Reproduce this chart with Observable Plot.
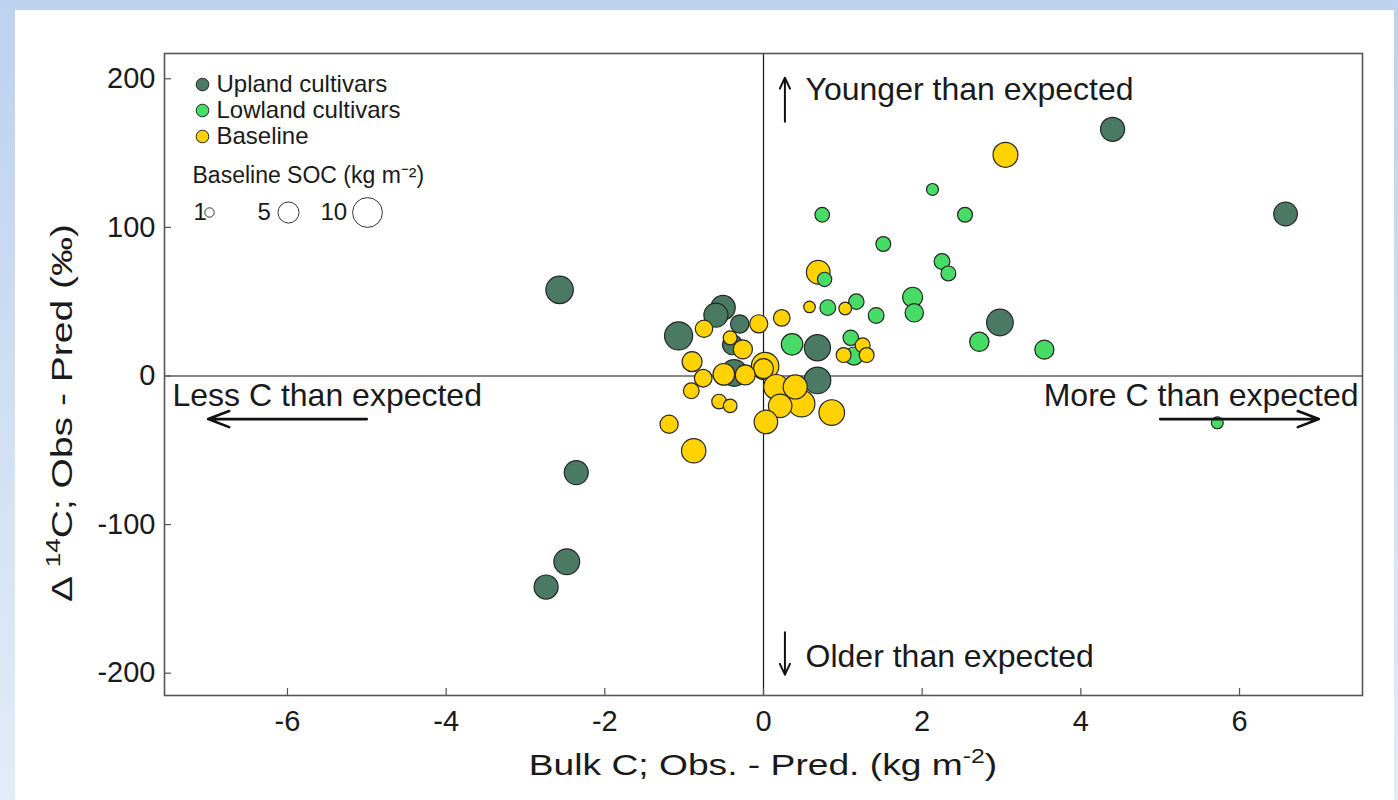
<!DOCTYPE html>
<html>
<head>
<meta charset="utf-8">
<script src="https://cdn.jsdelivr.net/npm/d3@7"></script>
<script src="https://cdn.jsdelivr.net/npm/@observablehq/plot@0.6"></script>
<style>
  html, body { margin: 0; padding: 0; width: 1398px; height: 800px; overflow: hidden; }
  body { background: linear-gradient(to bottom, #bcd2ee, #e3ecf8); position: relative; }
  #panel { position: absolute; left: 15px; top: 10px; width: 1379px; height: 790px; background: #fff; }
  #chart { position: absolute; left: 0; top: 0; }
</style>
</head>
<body>
<div id="panel"></div>
<div id="chart"></div>
<script>
// Groups and their fill colours
const groups = ["Upland cultivars", "Lowland cultivars", "Baseline"];
const groupColors = ["#4a7a64", "#47dc65", "#ffd200"];

// Upland cultivars: bulk C residual (kg m-2), Δ14C residual (‰), baseline SOC (kg m-2)
const uplandBulkC = [4.40, 6.58, -2.57, 2.98, 0.68, 0.68, -1.07, -0.51, -0.60, -0.30, -0.39, -0.37, -2.36, -2.48, -2.74];
const uplandD14C  = [166, 109, 58, 36, 19, -3, 27, 46, 41, 35, 21, 2, -65, -125, -142];
const uplandSOC   = [6.5, 6.3, 8.5, 8.0, 7.7, 8.0, 8.9, 6.7, 6.5, 3.8, 4.5, 8.0, 6.5, 7.5, 6.5];

// Lowland cultivars
const lowlandBulkC = [0.74, 2.54, 1.51, 2.25, 2.33, 1.88, 1.90, 0.77, 0.81, 1.17, 1.42, 0.36, 1.10, 1.14, 2.72, 3.54, 5.72, 2.13];
const lowlandD14C  = [108.5, 108.5, 88.8, 77, 69, 53, 42.5, 65, 46, 50, 40.7, 21.3, 25.7, 13.4, 23, 17.7, -31.5, 125.5];
const lowlandSOC   = [2.4, 2.5, 2.5, 2.8, 2.5, 4.5, 3.8, 2.3, 2.8, 2.7, 2.8, 5.2, 2.7, 3.7, 4.2, 4.1, 1.6, 1.6];

// Baseline
const baselineBulkC = [3.05, 0.69, 0.58, 1.03, 0.23, -0.06, 1.25, 1.01, 1.30, -0.75, -0.42, -0.26, -0.90, 0.02, 0.00, -0.76, -0.50, -0.23, -0.91, -0.56, -0.42, 0.16, 0.40, 0.21, 0.48, 0.86, 0.03, -1.19, -0.88];
const baselineD14C  = [148.8, 69.8, 46.5, 45.4, 39.1, 35.1, 20.6, 14.1, 14.1, 31.8, 25.7, 17.9, 9.6, 6.7, 5, -1.5, 1.1, 0.7, -10, -17.2, -20.1, -7.4, -7.4, -20.1, -18.6, -24.6, -30.9, -32.5, -50.3];
const baselineSOC   = [7.0, 6.3, 1.5, 1.8, 3.1, 3.7, 2.5, 2.5, 2.5, 3.4, 2.2, 4.1, 4.5, 8.5, 4.5, 3.5, 5.3, 4.5, 2.8, 2.4, 2.1, 7.0, 6.5, 6.2, 8.0, 7.4, 6.2, 3.7, 6.7];

// Axis ticks
const xTicks = [-6, -4, -2, 0, 2, 4, 6];
const yTicks = [-200, -100, 0, 100, 200];

// Size legend values (kg m-2)
const sizeLegend = [1, 5, 10];

// Quadrant annotations
const annotationText = ["Younger than expected", "Older than expected", "Less C than expected", "More C than expected"];
const annotationX = [0.53, 0.53, -7.45, 7.50];
const annotationY = [192.6, -189, -13.4, -13.4];
const annotationAnchor = ["start", "start", "start", "end"];

// Direction arrows
const arrowX1 = [-5, 5, 0.27, 0.27];
const arrowX2 = [-7, 7, 0.27, 0.27];
const arrowY1 = [-29, -29, 171, -172.5];
const arrowY2 = [-29, -29, 200.7, -201];

// Assemble point table, drawn baseline first so cultivars sit on top
const points = [];
const addGroup = (g, xs, ys, ss) => xs.forEach((x, i) => points.push({group: g, x, y: ys[i], soc: ss[i]}));
addGroup("Baseline", baselineBulkC, baselineD14C, baselineSOC);
addGroup("Lowland cultivars", lowlandBulkC, lowlandD14C, lowlandSOC);
addGroup("Upland cultivars", uplandBulkC, uplandD14C, uplandSOC);

const annotations = annotationText.map((t, i) => ({text: t, x: annotationX[i], y: annotationY[i], anchor: annotationAnchor[i]}));
const arrows = arrowX1.map((x1, i) => ({x1, x2: arrowX2[i], y1: arrowY1[i], y2: arrowY2[i], big: i < 2}));

const W = 1398, H = 800;
const mL = 164, mR = 36, mT = 53, mB = 105;
const frameW = W - mL - mR, frameH = H - mT - mB;
const font = "Liberation Sans, Arial, Helvetica, sans-serif";
const ptStroke = "#262626";
const ink = "#1a1a1a";

// Legend marks, anchored to the top-left corner of the frame
const legendMarks = [];
groups.forEach((g, i) => {
  legendMarks.push(Plot.dot([g], {frameAnchor: "top-left", dx: 38, dy: 31 + 26 * i, r: 6.3, fill: d => d, stroke: ptStroke, strokeWidth: 1}));
  legendMarks.push(Plot.text([g], {frameAnchor: "top-left", dx: 52, dy: 31 + 26 * i, text: d => d, textAnchor: "start", lineAnchor: "middle", fontSize: 24, fill: ink}));
});
legendMarks.push(Plot.text(["Baseline SOC (kg m\u207B\u00B2)"], {frameAnchor: "top-left", dx: 28, dy: 122, text: d => d, textAnchor: "start", lineAnchor: "middle", fontSize: 23, fill: ink}));
const sizeLabelDx = [29, 93, 156];
const sizeDotDx = [45, 124, 203];
sizeLegend.forEach((v, i) => {
  legendMarks.push(Plot.text([v], {frameAnchor: "top-left", dx: sizeLabelDx[i], dy: 159, text: d => String(d), textAnchor: "start", lineAnchor: "middle", fontSize: 24, fill: ink}));
  legendMarks.push(Plot.dot([v], {frameAnchor: "top-left", dx: sizeDotDx[i], dy: 159, r: d => d, fill: "none", stroke: "#333", strokeWidth: 1}));
});

const chart = Plot.plot({
  width: W,
  height: H,
  marginLeft: mL,
  marginRight: mR,
  marginTop: mT,
  marginBottom: mB,
  style: {fontFamily: font, background: "transparent", overflow: "visible", color: ink},
  x: {domain: [-7.55, 7.55], label: null},
  y: {domain: [-215, 217], label: null},
  r: {domain: [0, 10], range: [0, 14.9]},
  color: {domain: groups, range: groupColors},
  marks: [
    Plot.ruleY([0], {stroke: "#111", strokeWidth: 1.2}),
    Plot.ruleX([0], {stroke: "#111", strokeWidth: 1.2}),
    Plot.dot(points, {x: "x", y: "y", r: "soc", fill: "group", stroke: ptStroke, strokeWidth: 1.2}),
    Plot.text(annotations.filter(d => d.anchor === "start"), {x: "x", y: "y", text: "text", textAnchor: "start", fontSize: 32, fill: ink}),
    Plot.text(annotations.filter(d => d.anchor === "end"), {x: "x", y: "y", text: "text", textAnchor: "end", fontSize: 32, fill: ink}),
    Plot.arrow(arrows.filter(d => d.big), {x1: "x1", y1: "y1", x2: "x2", y2: "y2", stroke: "#111", strokeWidth: 2.6, headLength: 13, headAngle: 42}),
    Plot.arrow(arrows.filter(d => !d.big), {x1: "x1", y1: "y1", x2: "x2", y2: "y2", stroke: "#111", strokeWidth: 2, headLength: 9, headAngle: 50}),
    // inward ticks
    Plot.tickX(xTicks, {x: d => d, insetTop: frameH - 7, stroke: "#555", strokeWidth: 1.2}),
    Plot.tickY(yTicks, {y: d => d, insetRight: frameW - 7, stroke: "#555", strokeWidth: 1.2}),
    Plot.axisX(xTicks, {tickSize: 0, tickPadding: 15, fontSize: 29, fill: ink, tickFormat: d => String(d)}),
    Plot.axisY(yTicks, {tickSize: 0, tickPadding: 9, fontSize: 29, fill: ink, tickFormat: d => String(d)}),
    Plot.frame({stroke: "#555", strokeWidth: 1.6}),
    ...legendMarks
  ]
});

const svg = d3.select(chart.tagName.toLowerCase() === "svg" ? chart : chart.querySelector("svg"));

// Axis titles with superscripts; the title type is set wide along its reading direction
const xTitle = svg.append("text")
  .attr("transform", `translate(${mL + frameW / 2}, 775) scale(1.24, 1)`)
  .attr("text-anchor", "middle").attr("font-size", 30).attr("fill", ink);
xTitle.append("tspan").text("Bulk C; Obs. - Pred. (kg m");
xTitle.append("tspan").attr("font-size", 20).attr("dy", -12).text("-2");
xTitle.append("tspan").attr("dy", 12).text(")");

const yTitle = svg.append("text")
  .attr("transform", `translate(72, 413) rotate(-90) scale(1.3, 1)`)
  .attr("text-anchor", "middle").attr("font-size", 30).attr("fill", ink);
yTitle.append("tspan").text("\u0394 ");
yTitle.append("tspan").attr("font-size", 20).attr("dy", -12).text("14");
yTitle.append("tspan").attr("dy", 12).text("C; Obs - Pred (\u2030)");

document.getElementById("chart").appendChild(chart);
</script>
</body>
</html>
